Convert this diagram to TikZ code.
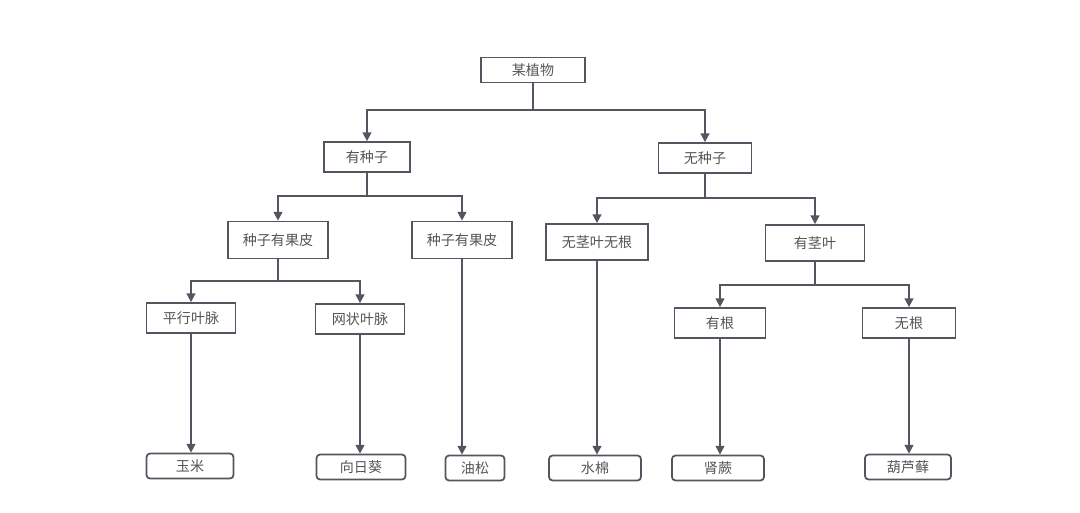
\documentclass[tikz,border=0pt]{standalone}
\usepackage{fontspec}
\setmainfont{Noto Sans CJK SC}
\usetikzlibrary{arrows.meta}
\definecolor{linegray}{HTML}{555560}
\definecolor{textgray}{HTML}{555555}

\begin{document}
\begin{tikzpicture}[%
        x = 0.02cm, y = -0.02cm,
        line width = 1pt,
        > = {Triangle[length=5pt, width=5pt]},
        box/.style = {draw = linegray, fill = white, text = textgray,
            font = \fontsize{8pt}{9pt}\selectfont,
            minimum height = 0.6cm, inner sep = 0pt},
        leaf/.style = {box, rounded corners = 2pt, minimum height = 0.5cm},
        edge/.style = {draw = linegray, ->}
    ]

        \useasboundingbox (0, 0) rectangle (1080, 512);

        % Top levels.
        \node[box, minimum width = 2.08cm, minimum height = 0.5cm] (plant) at (533, 70) {某植物};
        \node[box, minimum width = 1.72cm] (seed)   at (367, 157) {有种子};
        \node[box, minimum width = 1.86cm] (noseed) at (705, 158) {无种子};

        % Third level.
        \node[box, minimum width = 2cm, minimum height = 0.74cm] (peelA) at (278, 240) {种子有果皮};
        \node[box, minimum width = 2cm, minimum height = 0.74cm] (peelB) at (462, 240) {种子有果皮};
        \node[box, minimum width = 2.04cm, minimum height = 0.72cm] (nostem) at (597, 242) {无茎叶无根};
        \node[box, minimum width = 1.98cm, minimum height = 0.72cm] (stem)   at (815, 243) {有茎叶};

        % Fourth level.
        \node[box, minimum width = 1.78cm] (parallel) at (191, 318) {平行叶脉};
        \node[box, minimum width = 1.78cm] (net)      at (360, 319) {网状叶脉};
        \node[box, minimum width = 1.82cm] (root)     at (720, 323) {有根};
        \node[box, minimum width = 1.86cm] (noroot)   at (909, 323) {无根};

        % Leaves.
        \node[leaf, minimum width = 1.74cm] (corn)   at (190, 466) {玉米};
        \node[leaf, minimum width = 1.78cm] (sun)    at (361, 467) {向日葵};
        \node[leaf, minimum width = 1.18cm] (pine)   at (475, 468) {油松};
        \node[leaf, minimum width = 1.84cm] (algae)  at (595, 468) {水棉};
        \node[leaf, minimum width = 1.84cm] (fern)   at (718, 468) {肾蕨};
        \node[leaf, minimum width = 1.72cm] (moss)   at (908, 467) {葫芦藓};

        % Branching connectors.
        \draw[edge] (plant.south) -- (plant.south |- 0, 110) -| (seed.north);
        \draw[edge] (plant.south) -- (plant.south |- 0, 110) -| (noseed.north);
        \draw[edge] (seed.south) -- (seed.south |- 0, 196) -| (peelA.north);
        \draw[edge] (seed.south) -- (seed.south |- 0, 196) -| (peelB.north);
        \draw[edge] (noseed.south) -- (noseed.south |- 0, 198) -| (nostem.north);
        \draw[edge] (noseed.south) -- (noseed.south |- 0, 198) -| (stem.north);
        \draw[edge] (peelA.south) -- (peelA.south |- 0, 281) -| (parallel.north);
        \draw[edge] (peelA.south) -- (peelA.south |- 0, 281) -| (net.north);
        \draw[edge] (stem.south) -- (stem.south |- 0, 285) -| (root.north);
        \draw[edge] (stem.south) -- (stem.south |- 0, 285) -| (noroot.north);

        % Straight connectors to the leaves.
        \draw[edge] (parallel.south) -- (parallel.south |- corn.north);
        \draw[edge] (net.south) -- (net.south |- sun.north);
        \draw[edge] (peelB.south) -- (peelB.south |- pine.north);
        \draw[edge] (nostem.south) -- (nostem.south |- algae.north);
        \draw[edge] (root.south) -- (root.south |- fern.north);
        \draw[edge] (noroot.south) -- (noroot.south |- moss.north);
    \end{tikzpicture}
\end{document}
